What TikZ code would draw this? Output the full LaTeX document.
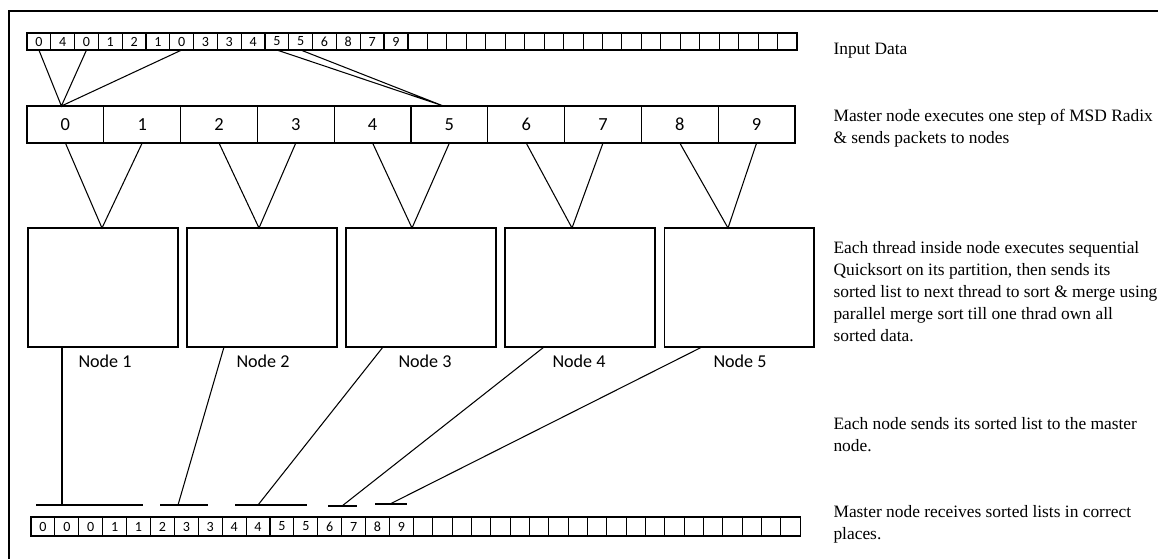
\documentclass[tikz,border=0pt]{standalone}
\usepackage{fontspec}
\setmainfont{Liberation Serif}
\newfontfamily\calibri{Carlito}
\usetikzlibrary{positioning}
\tikzset{
  cell/.style={draw, inner sep=0pt, outer sep=0pt, minimum height=0.34cm, font=\calibri\fontsize{8}{8}\selectfont},
  wide/.style={cell, minimum width=0.476cm},
  slim/.style={cell, minimum width=0.389cm},
  bucket/.style={draw, inner sep=0pt, outer sep=0pt, minimum width=1.536cm, minimum height=0.74cm, font=\calibri\fontsize{10.5}{10.5}\selectfont},
  proc/.style={draw, inner sep=0pt, outer sep=0pt, minimum width=3cm, minimum height=2.38cm},
  proclabel/.style={inner sep=0pt, font=\calibri\fontsize{10.3}{12}\selectfont},
  note/.style={anchor=base west, align=left, inner sep=0pt, font=\fontsize{9.9}{12.5}\selectfont}
}
\begin{document}
\begin{tikzpicture}[x=0.02cm, y=-0.02cm, line width=0.6pt]
\useasboundingbox (0,0) rectangle (1158,559);
\draw[line width=0.8pt] (9,559)--(9,11)--(1158,11);
\foreach \v [count=\i from 0] in {0,4,0,1,2,1,0,3,3,4,5,5,6,8,7,9}
  \node[wide] (t\i) at ({27+23.8*(\i+0.5)},41.5) {\v};
\foreach \i in {16,...,35}
  \node[slim] (t\i) at ({408+19.45*(\i-15.5)},41.5) {};
\foreach \i in {0,...,9}
  \node[bucket] (b\i) at ({27+76.8*(\i+0.5)},124.5) {\i};
\draw (t0.south)--([xshift=-0.08cm]b0.north)--(t2.south);
\draw (t6.south)--([xshift=-0.08cm]b0.north);
\draw (t10.south)--([xshift=-0.12cm]b5.north)--(t11.south);
\foreach \i in {1,...,5}
  \node[proc] (n\i) at ({103+159*(\i-1)},287.5) {};
\foreach \i/\x in {1/105,2/263,3/425,4/579,5/740}
  \node[proclabel] (l\i) at (\x,361) {Node \i};
\foreach \a/\b/\n/\dx in {0/1/1/-1,2/3/2/-3,4/5/3/-9,6/7/4/-8,8/9/5/-11}
  \draw (b\a.south)--([xshift=\dx*0.02cm]n\n.north)--(b\b.south);
\foreach \i/\l/\r/\h/\y in {1/36/143/62/505,2/160/208/178/505,3/235/307/258/505,4/328/357/342/506,5/375/407/390/504}{
  \coordinate (g\i a) at (\l,\y);
  \coordinate (g\i b) at (\r,\y);
  \coordinate (h\i) at (\h,\y);
  \draw (g\i a)--(g\i b);
}
\foreach \n/\dx in {1/-41,2/-38,3/-38,4/-36,5/-37}
  \draw ([xshift=\dx*0.02cm]n\n.south)--(h\n);
\foreach \v [count=\i from 0] in {0,0,0,1,1,2,3,3,4,4,5,5,6,7,8,9}
  \node[wide, minimum width=0.478cm, minimum height=0.38cm] (r\i) at ({31+23.9*(\i+0.5)},526.5) {\v};
\foreach \i in {16,...,35}
  \node[slim, minimum width=0.387cm, minimum height=0.38cm] (r\i) at ({413.5+19.33*(\i-15.5)},526.5) {};
\node[note] (d1) at (833,54) {Input Data};
\node[note] (d2) at (833,143) {Master node executes one step of MSD Radix\\\& sends packets to nodes};
\node[note] (d3) at (833,341) {Each thread inside node executes sequential\\Quicksort on its partition, then sends its\\sorted list to next thread to sort \& merge using\\parallel merge sort till one thrad own all\\sorted data.};
\node[note] (d4) at (833,451) {Each node sends its sorted list to the master\\node.};
\node[note] (d5) at (833,539) {Master node receives sorted lists in correct\\places.};
\end{tikzpicture}
\end{document}
